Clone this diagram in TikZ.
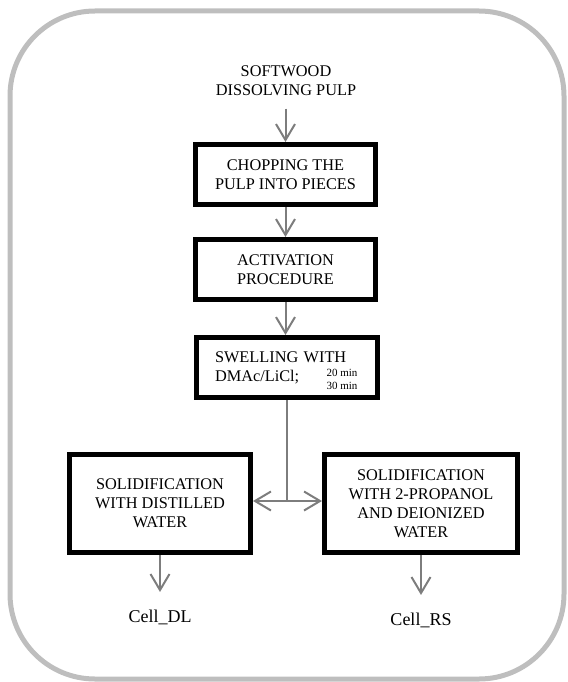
\documentclass[tikz,border=0pt]{standalone}
\usepackage{fontspec}
\setmainfont{Liberation Serif}
\usepackage{xcolor}
\usetikzlibrary{arrows.meta}
\definecolor{flowgray}{RGB}{125,125,125}
\definecolor{framegray}{RGB}{190,190,190}

\begin{document}
\begin{tikzpicture}[x=1pt,y=-1pt]
			\tikzstyle{stepbox}=[draw, line width=5pt, minimum width=180pt, minimum height=60pt, align=center, font=\fontsize{16.3}{19}\selectfont]
			\tikzstyle{txt}=[align=center, font=\fontsize{16.3}{19}\selectfont]
			\tikzstyle{small}=[align=left, font=\fontsize{11}{13}\selectfont]
			\tikzstyle{result}=[font=\fontsize{18}{20}\selectfont]
			\tikzset{link/.style = {draw=flowgray, line width=2pt}}
			\tikzset{flow/.style = {link, -{Straight Barb[length=16pt,width=19pt]}}}
			
			\useasboundingbox (0,0) rectangle (567,682);
			\draw[framegray, line width=5pt, rounded corners=85pt] (10,11) rectangle (564,679);
			
			\node[txt](pulp) at (286,81) {SOFTWOOD\\DISSOLVING PULP};
			\node[stepbox](chop) at (285.5,174.5) {CHOPPING THE\\PULP INTO PIECES};
			\node[stepbox](activ) at (285.5,269.5) {ACTIVATION\\PROCEDURE};
			\node[stepbox, minimum width=181pt, text width=144pt, align=left](swell) at (287,367.5) {SWELLING WITH\\DMAc/LiCl;};
			\node[small](time) at (342,379.5) {20 min\\30 min};
			\draw[flow, shorten <=9pt](pulp.south -| chop) to (chop.north);
			\draw[flow](chop) to (activ);
			\draw[flow](activ.south) to (activ.south |- swell.north);
			
			\coordinate (split) at (287,501);
			\node[stepbox, minimum width=181pt, minimum height=98pt](distil) at (160,503.5) {SOLIDIFICATION\\WITH DISTILLED\\WATER};
			\node[stepbox, minimum width=193pt, minimum height=98pt](propan) at (421,503.5) {SOLIDIFICATION\\WITH 2-PROPANOL\\AND DEIONIZED\\WATER};
			\draw[link](swell) to (split);
			\draw[flow](split) to (split -| distil.east);
			\draw[flow](split) to (split -| propan.west);
			
			\node[result, anchor=base](celldl) at (160,622) {Cell\_DL};
			\node[result, anchor=base](cellrs) at (421,625) {Cell\_RS};
			\draw[flow, shorten >=14pt](distil) to (celldl);
			\draw[flow, shorten >=14pt](propan) to (cellrs);
			
\end{tikzpicture}
\end{document}
